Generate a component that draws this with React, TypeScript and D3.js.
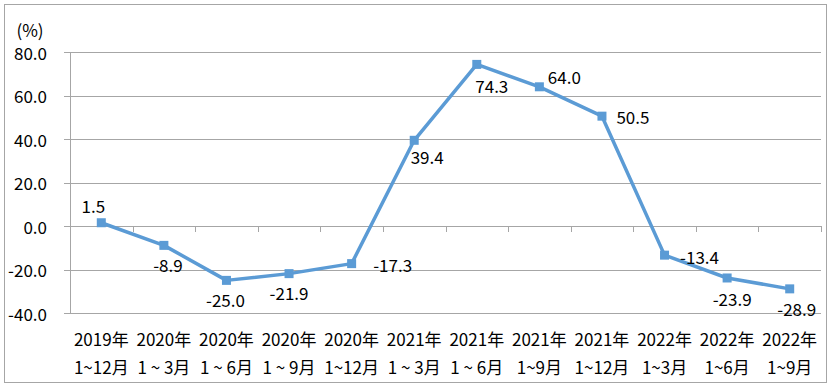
import React from "react";
import * as d3 from "d3";

const yearLabels = ["2019年", "2020年", "2020年", "2020年", "2020年", "2021年", "2021年", "2021年", "2021年", "2022年", "2022年", "2022年"];
const periodLabels = ["1~12月", "1 ~ 3月", "1 ~ 6月", "1 ~ 9月", "1~12月", "1 ~ 3月", "1 ~ 6月", "1~9月", "1~12月", "1~3月", "1~6月", "1~9月"];
const values = [1.5, -8.9, -25.0, -21.9, -17.3, 39.4, 74.3, 64.0, 50.5, -13.4, -23.9, -28.9];
const yTicks = [80, 60, 40, 20, 0, -20, -40];
// label placement relative to point: [dx, dy]
const labelOffsets: [number, number][] = [
  [-8, -17], [4, 19], [-1, 19], [0, 19], [41, 1], [13, 16], [15, 21], [25, -10], [31, 0], [35, 1], [5, 21], [7, 20],
];

const W = 833;
const H = 390;
const left = 70;
const right = 821;
const top = 52;
const bottom = 313;
const FONT = "'Noto Sans CJK SC', 'Noto Sans', sans-serif";
const LINE = "#5B9BD5";
const FS = 17;

export default function App() {
  const idx = values.map((_, i) => i);
  const x = d3.scaleBand<number>().domain(idx).range([left, right]);
  const y = d3.scaleLinear().domain([-40, 80]).range([bottom, top]);
  const cx = (i: number) => (x(i) as number) + x.bandwidth() / 2;
  const line = d3.line<number>().x((_, i) => cx(i)).y((d) => y(d));
  const bounds = d3.range(values.length + 1).map((i) => left + i * x.bandwidth());

  return (
    <div style={{ position: "absolute", left: 0, top: 0 }}>
      <svg width={W} height={H} style={{ display: "block", fontFamily: FONT }}>
        <rect x={0} y={0} width={W} height={H} fill="#fff" />
        <rect x={4.5} y={4.5} width={822} height={378} fill="none" stroke="#A6A6A6" strokeWidth={1} />
        {yTicks.map((t) => (
          <g key={t}>
            <line x1={left - 6} x2={right} y1={Math.round(y(t)) + 0.5} y2={Math.round(y(t)) + 0.5} stroke="#A6A6A6" strokeWidth={1} />
            <text x={47} y={y(t)} textAnchor="end" dominantBaseline="central" fontSize={FS} fill="#000">
              {t.toFixed(1)}
            </text>
          </g>
        ))}
        <line x1={left + 0.5} x2={left + 0.5} y1={top} y2={bottom} stroke="#A6A6A6" strokeWidth={1} />
        {bounds.map((b, i) => (
          <line key={i} x1={Math.round(b) + 0.5} x2={Math.round(b) + 0.5} y1={y(0)} y2={y(0) + 6} stroke="#A6A6A6" strokeWidth={1} />
        ))}
        <text x={30} y={29} textAnchor="middle" dominantBaseline="central" fontSize={FS} fill="#000">(%)</text>
        {idx.map((i) => (
          <g key={i}>
            <text x={cx(i)} y={338} textAnchor="middle" dominantBaseline="central" fontSize={FS} fill="#000">{yearLabels[i]}</text>
            <text x={cx(i)} y={366} textAnchor="middle" dominantBaseline="central" fontSize={FS} fill="#000" style={{ whiteSpace: "pre" }}>{periodLabels[i]}</text>
          </g>
        ))}
        <path d={line(values) || ""} fill="none" stroke={LINE} strokeWidth={3.5} strokeLinejoin="round" />
        {values.map((v, i) => (
          <rect key={i} x={cx(i) - 4.5} y={y(v) - 4.5} width={9} height={9} fill={LINE} />
        ))}
        {values.map((v, i) => (
          <text key={i} x={cx(i) + labelOffsets[i][0]} y={y(v) + labelOffsets[i][1]} textAnchor="middle" dominantBaseline="central" fontSize={FS} fill="#000">
            {v.toFixed(1)}
          </text>
        ))}
      </svg>
    </div>
  );
}
